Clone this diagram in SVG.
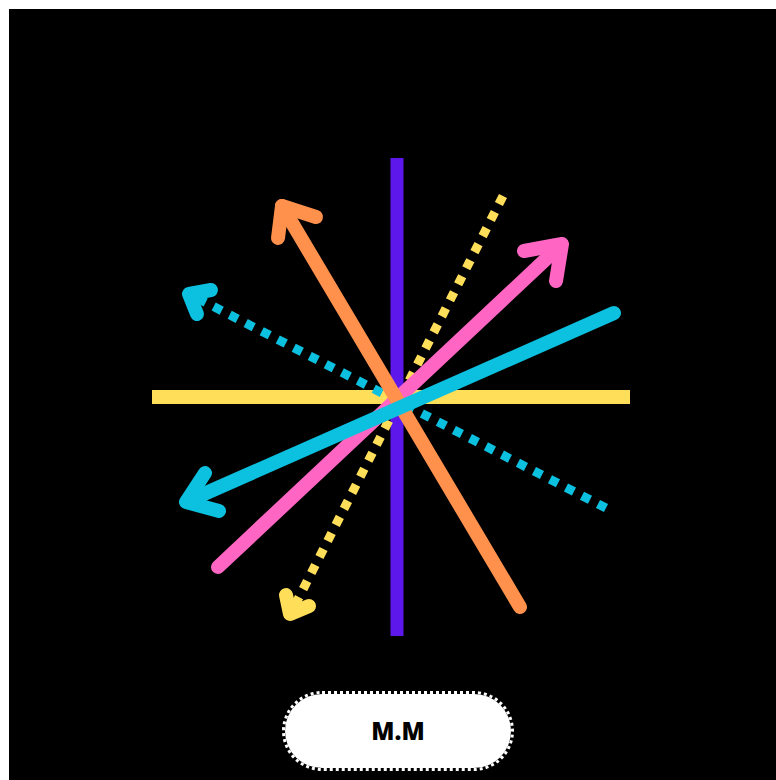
<svg xmlns="http://www.w3.org/2000/svg" width="776" height="780" viewBox="0 0 776 780">
<style>
.ln{fill:none;stroke-linecap:round;stroke-linejoin:round;stroke-width:14}
.dt{fill:none;stroke-width:9;stroke-dasharray:9 9}
.hd{fill:none;stroke-linecap:round;stroke-linejoin:round;stroke-width:14}
.lbl{font-family:"Open Sans","Liberation Sans",sans-serif;font-weight:800;font-size:24px;fill:#000}
</style>
<rect width="776" height="780" fill="#fff"/>
<rect x="9" y="9" width="767" height="771" fill="#000"/>
<g id="connectors">
<line x1="152" y1="397" x2="630" y2="397" stroke="#ffde59" stroke-width="14"/>
<line x1="397" y1="158" x2="397" y2="636" stroke="#5e17eb" stroke-width="13"/>
<line class="dt" x1="503" y1="196" x2="292" y2="611" stroke="#ffde59"/>
<polyline class="hd" points="286,595 290,614 309,606" stroke="#ffde59" stroke-width="10"/>
<line class="dt" x1="606" y1="508" x2="195" y2="297" stroke="#0cc0df"/>
<polyline class="hd" points="211,290 189,294 197,314" stroke="#0cc0df" stroke-width="10"/>
<line class="ln" x1="218" y1="567" x2="561" y2="245" stroke="#ff66c4" stroke-width="15"/>
<polyline class="hd" points="524,251 562,244 556,281" stroke="#ff66c4" stroke-width="15"/>
<line class="ln" x1="520" y1="607" x2="282" y2="206" stroke="#ff914d"/>
<polyline class="hd" points="278,238 282,206 316,217" stroke="#ff914d" stroke-width="15"/>
<line class="ln" x1="614" y1="313" x2="188" y2="501" stroke="#0cc0df" stroke-width="15"/>
<polyline class="hd" points="205,473 186,502 219,511" stroke="#0cc0df" stroke-width="15"/>
</g>
<g id="label">
<rect x="285" y="694" width="226" height="74" rx="37" fill="#fff"/>
<rect x="283.5" y="692.5" width="229" height="77" rx="38.5" fill="none" stroke="#fff" stroke-width="3" stroke-dasharray="3 3"/>
<text class="lbl" x="398" y="740" text-anchor="middle">M.M</text>
</g>
</svg>
